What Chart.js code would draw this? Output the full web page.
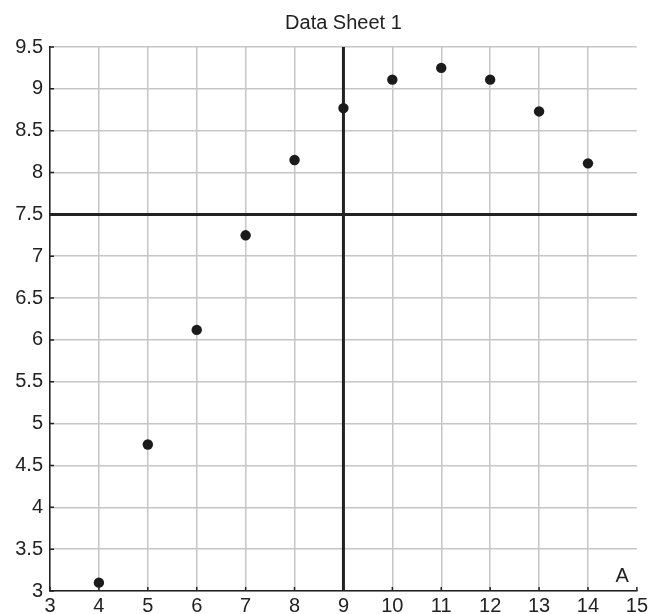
<!DOCTYPE html>
<html>
<head>
<meta charset="utf-8">
<script src="https://cdn.jsdelivr.net/npm/chart.js@4/dist/chart.umd.min.js"></script>
<style>
html,body{margin:0;padding:0;background:#fff}
#wrap{width:651px;height:614px}
</style>
</head>
<body>
<div id="wrap"><canvas id="chart" width="651" height="614"></canvas></div>
<script>
// measurements along the sheet
const xValues = [4,5,6,7,8,9,10,11,12,13,14]
const yValues = [3.1,4.75,6.12,7.25,8.15,8.77,9.11,9.25,9.11,8.73,8.11]

// reference lines
const refX = 9
const refY = 7.5

const xMin = 3, xMax = 15
const yMin = 3, yMax = 9.5

const ink = "#222"
const font = "'Liberation Sans', Arial, sans-serif"

const points = xValues.map((x,i)=>({x:x, y:yValues[i]}))

// small inward ticks on both axes plus the corner label
const axisMarks = {
id:"axisMarks",
afterDraw(chart){
const ctx = chart.ctx
const area = chart.chartArea
const xs = chart.scales.x
const ys = chart.scales.y
ctx.save()
ctx.strokeStyle = ink
ctx.lineWidth = 1.5
ctx.beginPath()
ys.ticks.forEach(t=>{
const py = ys.getPixelForValue(t.value)
ctx.moveTo(area.left, py)
ctx.lineTo(area.left+4, py)
})
xs.ticks.forEach(t=>{
const px = xs.getPixelForValue(t.value)
ctx.moveTo(px, area.bottom)
ctx.lineTo(px, area.bottom-4)
})
ctx.stroke()
ctx.fillStyle = ink
ctx.font = "20px " + font
ctx.textAlign = "right"
ctx.textBaseline = "alphabetic"
ctx.fillText("A", area.right-8, area.bottom-9)
ctx.restore()
}
}

const plain = v => String(v)

new Chart(document.getElementById("chart"),{
type:"scatter",
data:{
datasets:[
{
label:"Data Sheet 1",
data:points,
order:0,
pointRadius:5.2,
pointHoverRadius:5.2,
pointBackgroundColor:"#1b1b1b",
pointBorderWidth:0
},
{
type:"line",
data:[{x:refX,y:yMin},{x:refX,y:yMax}],
order:1,
borderColor:ink,
borderWidth:3,
pointRadius:0
},
{
type:"line",
data:[{x:xMin,y:refY},{x:xMax,y:refY}],
order:1,
borderColor:ink,
borderWidth:3,
pointRadius:0
}
]
},
options:{
responsive:false,
animation:false,
layout:{padding:{left:0,right:14,top:0,bottom:0}},
plugins:{
legend:{display:false},
tooltip:{enabled:false},
title:{
display:true,
text:"Data Sheet 1",
fullSize:false,
color:ink,
font:{family:font,size:20,weight:"normal",lineHeight:1.2},
padding:{top:11.5,bottom:11.5}
}
},
scales:{
x:{
type:"linear",
min:xMin,
max:xMax,
afterFit(scale){ scale.height = 23 },
grid:{
drawTicks:false,
lineWidth:1.5,
color:(c)=> c.tick && c.tick.value === xMax ? "rgba(0,0,0,0)" : "#c6c6c6"
},
border:{color:ink,width:1.5},
ticks:{
stepSize:1,
autoSkip:false,
maxRotation:0,
padding:3,
color:ink,
font:{family:font,size:20},
callback:plain
}
},
y:{
type:"linear",
min:yMin,
max:yMax,
afterFit(scale){ scale.width = 50 },
grid:{drawTicks:false,lineWidth:1.5,color:"#c6c6c6"},
border:{color:ink,width:1.5},
ticks:{
stepSize:0.5,
autoSkip:false,
padding:7,
color:ink,
font:{family:font,size:20},
callback:plain
}
}
}
},
plugins:[axisMarks]
})
</script>
</body>
</html>
